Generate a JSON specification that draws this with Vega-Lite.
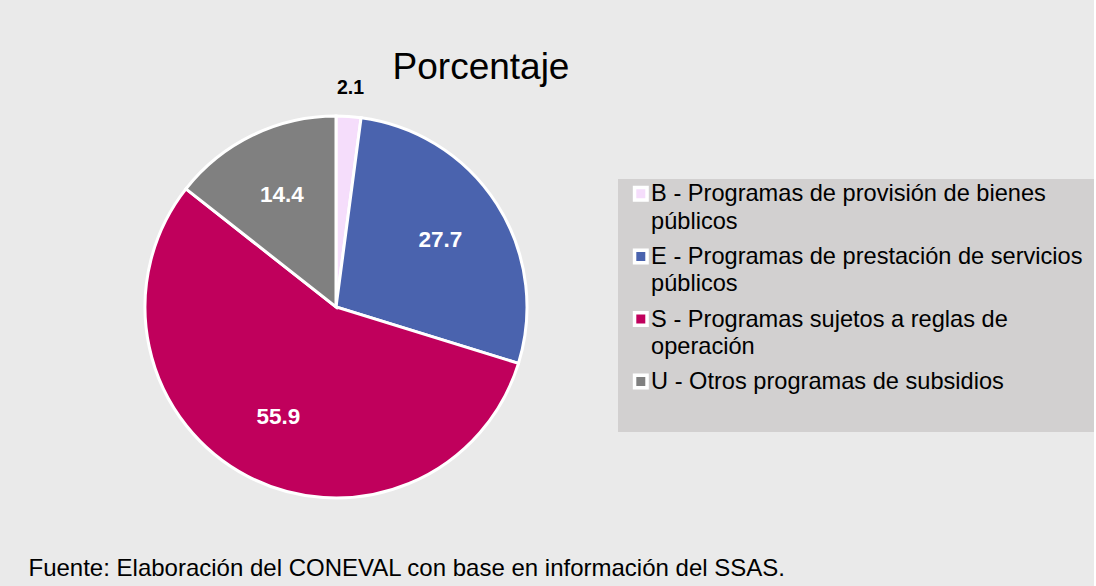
{
  "$schema": "https://vega.github.io/schema/vega-lite/v6.json",
  "background": "#eaeaea",
  "padding": {"left": 28, "top": 48, "right": 0, "bottom": 4},
  "config": {
    "view": {"stroke": null},
    "font": "Liberation Sans",
    "style": {"guide-label": {"lineHeight": 27.5}}
  },
  "title": {
    "text": "Fuente: Elaboración del CONEVAL con base en información del SSAS.",
    "orient": "bottom",
    "anchor": "start",
    "frame": "bounds",
    "fontSize": 24,
    "fontWeight": "normal",
    "color": "#000000",
    "font": "Liberation Sans",
    "baseline": "alphabetic",
    "dx": -110.5,
    "offset": 66
  },
  "vconcat": [
    {
      "width": 384,
      "height": 384,
      "title": {
        "text": "Porcentaje",
        "anchor": "middle",
        "frame": "group",
        "dx": 145,
        "fontSize": 37,
        "fontWeight": "normal",
        "color": "#000000",
        "font": "Liberation Sans",
        "baseline": "alphabetic",
        "offset": -37.5
      },
      "data": {
        "values": [
          {"clave": "B", "programa": "B - Programas de provisión de bienes públicos", "porcentaje": 2.1},
          {"clave": "E", "programa": "E - Programas de prestación de servicios públicos", "porcentaje": 27.7},
          {"clave": "S", "programa": "S - Programas sujetos a reglas de operación", "porcentaje": 55.9},
          {"clave": "U", "programa": "U - Otros programas de subsidios", "porcentaje": 14.4}
        ]
      },
      "encoding": {
        "theta": {"field": "porcentaje", "type": "quantitative", "stack": true},
        "order": {"field": "clave", "type": "ordinal", "sort": "ascending"}
      },
      "layer": [
        {
          "mark": {"type": "arc", "outerRadius": 191, "stroke": "#ffffff", "strokeWidth": 3},
          "encoding": {
            "color": {
              "field": "programa",
              "type": "nominal",
              "scale": {
                "domain": [
                  "B - Programas de provisión de bienes públicos",
                  "E - Programas de prestación de servicios públicos",
                  "S - Programas sujetos a reglas de operación",
                  "U - Otros programas de subsidios"
                ],
                "range": ["#f5ddfb", "#4a63ae", "#c0005c", "#808080"]
              },
              "legend": {
                "orient": "none",
                "legendX": 474,
                "legendY": 64,
                "title": null,
                "fillColor": "#d2d0d0",
                "padding": 10.5,
                "symbolType": "M-1,-2.2L1,-2.2L1,-0.2L-1,-0.2Z",
                "symbolSize": 156,
                "symbolOffset": 0.5,
                "symbolStrokeColor": "#ffffff",
                "symbolStrokeWidth": 3.5,
                "symbolOpacity": 1,
                "labelFont": "Liberation Sans",
                "labelFontSize": 23.6,
                "labelColor": "#000000",
                "labelLimit": 700,
                "labelOffset": -1.5,
                "labelBaseline": "alphabetic",
                "rowPadding": 9.6,
                "labelExpr": "datum.value == 'B - Programas de provisión de bienes públicos' ? ['B - Programas de provisión de bienes', 'públicos'] : datum.value == 'E - Programas de prestación de servicios públicos' ? ['E - Programas de prestación de servicios', 'públicos'] : datum.value == 'S - Programas sujetos a reglas de operación' ? ['S - Programas sujetos a reglas de', 'operación'] : [datum.label, '']"
              }
            }
          }
        },
        {
          "mark": {"type": "text", "radius": 124, "fontSize": 22.5, "fontWeight": "bold", "font": "Liberation Sans"},
          "encoding": {
            "color": {"value": "#ffffff"},
            "text": {"condition": {"test": "datum.clave == 'B'", "value": ""}, "field": "porcentaje", "type": "quantitative", "format": ".1f"}
          }
        },
        {
          "mark": {"type": "text", "radius": 219, "fontSize": 19.5, "fontWeight": "bold", "font": "Liberation Sans"},
          "encoding": {
            "color": {"value": "#000000"},
            "text": {"condition": {"test": "datum.clave != 'B'", "value": ""}, "field": "porcentaje", "type": "quantitative", "format": ".1f"}
          }
        }
      ]
    }
  ],
  "resolve": {"scale": {"color": "independent"}, "legend": {"color": "independent"}}
}
